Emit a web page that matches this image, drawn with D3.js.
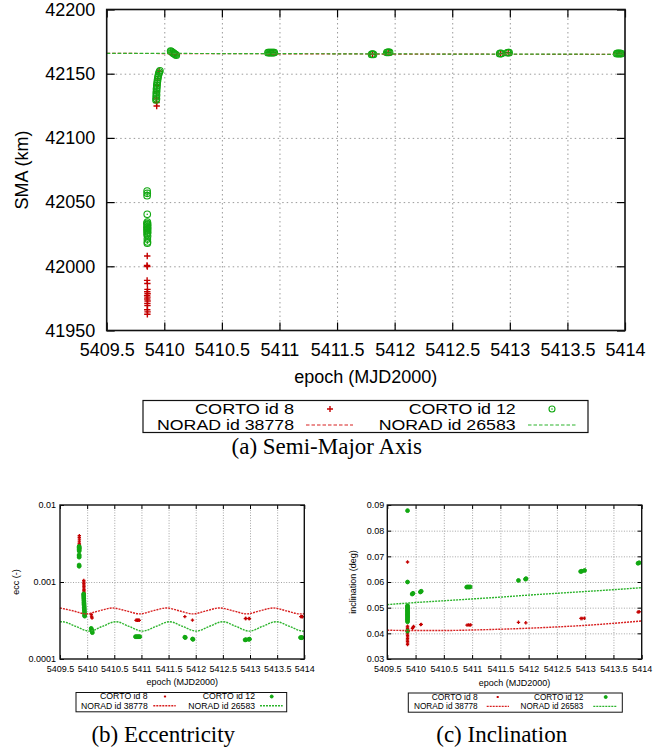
<!DOCTYPE html>
<html>
<head>
<meta charset="utf-8">
<script src="https://cdn.jsdelivr.net/npm/d3@7"></script>
<style>
  html, body { margin: 0; padding: 0; background: #fff; }
  svg { display: block; }
  text { font-family: "Liberation Sans", Arial, Helvetica, sans-serif; fill: #000; }
  text.caption { font-family: "Liberation Serif", "Times New Roman", serif; }
</style>
</head>
<body>
<svg id="fig" width="662" height="751"></svg>
<script>
// ---- shared axis data ----
const epochTicks = [5409.5, 5410, 5410.5, 5411, 5411.5, 5412, 5412.5, 5413, 5413.5, 5414];
const smaTicks = [41950, 42000, 42050, 42100, 42150, 42200];
const eccTicks = [0.0001, 0.001, 0.01];
const incTicks = [0.03, 0.04, 0.05, 0.06, 0.07, 0.08, 0.09];
const seriesNames = ["CORTO id 8", "CORTO id 12", "NORAD id 38778", "NORAD id 26583"];
const captions = ["(a) Semi-Major Axis", "(b) Eccentricity", "(c) Inclination"];

// ---- semi-major axis (km) ----
const smaCorto8 = [
  [5409.852, 42008.0], [5409.850, 42000.6], [5409.853, 41999.8], [5409.851, 41989.0], [5409.853, 41986.6],
  [5409.854, 41982.0], [5409.852, 41980.2], [5409.855, 41978.6], [5409.851, 41977.2], [5409.854, 41976.0],
  [5409.852, 41974.5], [5409.855, 41973.0], [5409.853, 41971.0], [5409.854, 41969.4], [5409.852, 41966.2],
  [5409.855, 41964.5], [5409.853, 41962.6],
  [5409.934, 42124.8], [5409.933, 42127.6], [5409.932, 42131.0], [5409.934, 42136.0], [5409.937, 42141.0],
  [5409.941, 42146.0], [5409.955, 42152.0],
  [5410.070, 42166.0], [5410.090, 42165.3], [5410.915, 42166.4], [5410.945, 42166.4], [5411.808, 42165.1],
  [5411.944, 42166.6], [5412.920, 42165.7], [5412.986, 42166.4], [5413.948, 42165.7]
];
const smaCorto12 = [
  [5409.851, 42058.6], [5409.852, 42056.8], [5409.851, 42055.0], [5409.852, 42040.5],
  [5409.853, 42034.5], [5409.849, 42033.5], [5409.856, 42032.8], [5409.852, 42032.0], [5409.855, 42031.0],
  [5409.849, 42030.2], [5409.856, 42029.4], [5409.853, 42028.5], [5409.850, 42027.6], [5409.856, 42026.8],
  [5409.853, 42025.8], [5409.851, 42024.8], [5409.855, 42023.6], [5409.853, 42021.2], [5409.854, 42019.0],
  [5409.853, 42018.0],
  [5409.928, 42129.5], [5409.932, 42130.5], [5409.929, 42132.0], [5409.933, 42133.5], [5409.930, 42135.0],
  [5409.934, 42136.5], [5409.932, 42138.0], [5409.936, 42139.5], [5409.935, 42141.0], [5409.938, 42142.5],
  [5409.940, 42144.0], [5409.942, 42145.5], [5409.945, 42147.0], [5409.948, 42148.5], [5409.952, 42150.0],
  [5409.957, 42151.3], [5409.962, 42152.3],
  [5410.055, 42167.6], [5410.062, 42167.2], [5410.069, 42166.7], [5410.076, 42166.2], [5410.083, 42165.8],
  [5410.090, 42165.3], [5410.097, 42164.9], [5410.104, 42164.4],
  [5410.900, 42166.4], [5410.908, 42166.5], [5410.916, 42166.4], [5410.924, 42166.5], [5410.932, 42166.4],
  [5410.940, 42166.5], [5410.948, 42166.4], [5410.955, 42166.5],
  [5411.800, 42165.0], [5411.808, 42165.2], [5411.816, 42165.0],
  [5411.932, 42166.5], [5411.940, 42166.7], [5411.948, 42166.6], [5411.956, 42166.7],
  [5412.912, 42165.6], [5412.920, 42165.8], [5412.928, 42165.7],
  [5412.978, 42166.3], [5412.986, 42166.5], [5412.994, 42166.4],
  [5413.928, 42165.6], [5413.936, 42165.8], [5413.944, 42165.7], [5413.952, 42165.8], [5413.960, 42165.7],
  [5413.968, 42165.6]
];
const smaNorad38778 = [[5409.5, 42165.8], [5410.5, 42165.6], [5411.5, 42165.4], [5412.5, 42165.2], [5413.5, 42165.1], [5414, 42165.0]];
const smaNorad26583 = [[5409.5, 42165.9], [5410.5, 42165.7], [5411.5, 42165.5], [5412.5, 42165.3], [5413.5, 42165.2], [5414, 42165.1]];

// ---- eccentricity (-) ----
const eccCorto8 = [
  [5409.856, 0.0040], [5409.855, 0.0038], [5409.857, 0.0036], [5409.856, 0.0034], [5409.855, 0.0032],
  [5409.857, 0.0031], [5409.856, 0.0030],
  [5409.938, 0.00105], [5409.939, 0.00100], [5409.940, 0.00096], [5409.939, 0.00092], [5409.941, 0.00088],
  [5409.940, 0.00084], [5409.942, 0.00080], [5409.941, 0.00077], [5409.943, 0.00074], [5409.942, 0.00071],
  [5409.944, 0.00068], [5409.943, 0.00065], [5409.945, 0.00062], [5409.944, 0.00060], [5409.946, 0.00057],
  [5409.945, 0.00054], [5409.947, 0.00052],
  [5410.075, 0.00038], [5410.080, 0.00036], [5410.085, 0.00035], [5410.090, 0.00034],
  [5410.900, 0.000318], [5410.915, 0.000320], [5410.930, 0.000318], [5410.945, 0.000320], [5410.960, 0.000318],
  [5411.800, 0.000355], [5411.940, 0.000320],
  [5412.915, 0.000335], [5412.925, 0.000336], [5412.980, 0.000335], [5412.990, 0.000334],
  [5413.935, 0.000355], [5413.950, 0.000356], [5413.965, 0.000354]
];
const eccCorto12 = [
  [5409.853, 0.00290], [5409.852, 0.00282], [5409.854, 0.00275], [5409.853, 0.00268], [5409.852, 0.00260],
  [5409.854, 0.00252], [5409.853, 0.00225], [5409.852, 0.00218], [5409.853, 0.00210], [5409.852, 0.00166],
  [5409.853, 0.00160],
  [5409.935, 0.00070], [5409.936, 0.00067], [5409.937, 0.00064], [5409.938, 0.00061], [5409.940, 0.00058],
  [5409.941, 0.00055], [5409.942, 0.00053], [5409.943, 0.00051], [5409.945, 0.00049], [5409.946, 0.00047],
  [5409.948, 0.00045], [5409.949, 0.00043], [5409.951, 0.00041], [5409.952, 0.00039], [5409.954, 0.00037],
  [5409.955, 0.00036],
  [5410.075, 0.00025], [5410.082, 0.00024], [5410.089, 0.00023], [5410.096, 0.00022],
  [5410.890, 0.000195], [5410.910, 0.000195], [5410.930, 0.000195], [5410.950, 0.000195], [5410.970, 0.000195],
  [5411.800, 0.000192], [5411.808, 0.000190], [5411.942, 0.000182], [5411.950, 0.000180],
  [5412.910, 0.000177], [5412.925, 0.000178], [5412.978, 0.000180], [5412.990, 0.000181],
  [5413.930, 0.000190], [5413.945, 0.000189], [5413.960, 0.000190]
];
const eccNorad38778 = [
  [5409.50, 0.000460], [5409.74, 0.000422], [5409.98, 0.000385], [5410.22, 0.000422], [5410.47, 0.000460],
  [5410.72, 0.000422], [5410.97, 0.000385], [5411.21, 0.000422], [5411.46, 0.000460], [5411.70, 0.000422],
  [5411.95, 0.000385], [5412.19, 0.000422], [5412.44, 0.000460], [5412.69, 0.000422], [5412.94, 0.000385],
  [5413.18, 0.000422], [5413.43, 0.000460], [5413.67, 0.000422], [5413.92, 0.000385], [5414.00, 0.000387]
];
const eccNorad26583 = [
  [5409.50, 0.000303], [5409.54, 0.000305], [5409.79, 0.000265], [5410.04, 0.000230], [5410.28, 0.000265],
  [5410.53, 0.000305], [5410.77, 0.000265], [5411.02, 0.000230], [5411.27, 0.000265], [5411.52, 0.000305],
  [5411.76, 0.000265], [5412.01, 0.000230], [5412.25, 0.000265], [5412.50, 0.000305], [5412.74, 0.000265],
  [5412.99, 0.000230], [5413.23, 0.000265], [5413.48, 0.000305], [5413.73, 0.000265], [5413.98, 0.000230],
  [5414.00, 0.000230]
];

// ---- inclination (deg) ----
const incCorto8 = [
  [5409.858, 0.0678],
  [5409.858, 0.0428], [5409.857, 0.0424], [5409.858, 0.0418], [5409.859, 0.0412], [5409.858, 0.0405],
  [5409.857, 0.0398], [5409.858, 0.0392], [5409.859, 0.0386], [5409.858, 0.0380], [5409.857, 0.0374],
  [5409.858, 0.0368], [5409.859, 0.0362], [5409.858, 0.0356],
  [5409.945, 0.0419], [5409.955, 0.0423], [5409.965, 0.0427],
  [5410.090, 0.0434], [5410.100, 0.0435],
  [5410.910, 0.0432], [5410.935, 0.0433], [5410.960, 0.0432], [5410.975, 0.0433],
  [5411.820, 0.0443], [5411.950, 0.0441],
  [5412.925, 0.0458], [5412.945, 0.0458], [5412.985, 0.0459],
  [5413.935, 0.0483], [5413.955, 0.0484]
];
const incCorto12 = [
  [5409.858, 0.0878], [5409.858, 0.0600],
  [5409.858, 0.0508], [5409.857, 0.0504], [5409.858, 0.0500], [5409.859, 0.0496], [5409.858, 0.0492],
  [5409.857, 0.0488], [5409.858, 0.0484], [5409.859, 0.0480], [5409.858, 0.0476], [5409.857, 0.0472],
  [5409.858, 0.0468], [5409.859, 0.0464], [5409.858, 0.0460], [5409.857, 0.0455], [5409.858, 0.0450],
  [5409.858, 0.0445], [5409.858, 0.0409],
  [5409.940, 0.0553], [5409.955, 0.0556],
  [5410.085, 0.0561], [5410.100, 0.0564],
  [5410.905, 0.0580], [5410.925, 0.0581], [5410.945, 0.0580], [5410.965, 0.0581],
  [5411.820, 0.0606], [5411.945, 0.0611], [5411.955, 0.0613],
  [5412.920, 0.0641], [5412.940, 0.0642], [5412.990, 0.0645],
  [5413.935, 0.0673], [5413.955, 0.0675]
];
const incNorad38778 = [
  [5409.5, 0.0412], [5410.0, 0.0411], [5410.5, 0.0411], [5411.0, 0.0413], [5411.5, 0.0416],
  [5412.0, 0.0420], [5412.5, 0.0425], [5413.0, 0.0431], [5413.5, 0.0439], [5414.0, 0.0448]
];
const incNorad26583 = [
  [5409.5, 0.0512], [5410.0, 0.0520], [5410.5, 0.0527], [5411.0, 0.0534], [5411.5, 0.0541],
  [5412.0, 0.0549], [5412.5, 0.0556], [5413.0, 0.0563], [5413.5, 0.0570], [5414.0, 0.0578]
];

// ---- styling ----
const RED_PT = "#c40000", GREEN_PT = "#12a812";
const RED_LN = "#d82020", GREEN_LN = "#2cb42c";
const FONT = '"Liberation Sans", Arial, Helvetica, sans-serif';

const svg = d3.select("#fig");

function plusPath(cx, cy, s) {
  return `M${cx - s},${cy}H${cx + s}M${cx},${cy - s}V${cy + s}`;
}

function drawPanel(o) {
  const g = svg.append("g");
  const x = d3.scaleLinear().domain([5409.5, 5414]).range([o.left, o.right]);
  const y = (o.log ? d3.scaleLog() : d3.scaleLinear()).domain(o.yDomain).range([o.bottom, o.top]);
  const w = o.right - o.left, h = o.bottom - o.top;

  // dotted grid
  const grid = g.append("g");
  grid.append("g").attr("transform", `translate(0,${o.bottom})`)
    .call(d3.axisBottom(x).tickValues(epochTicks.slice(1, -1)).tickSize(-h).tickFormat(""));
  grid.append("g").attr("transform", `translate(${o.left},0)`)
    .call(d3.axisLeft(y).tickValues(o.yTicks.slice(1, -1)).tickSize(-w).tickFormat(""));
  grid.selectAll(".domain").remove();
  grid.selectAll("line").attr("stroke", "#9a9a9a").attr("stroke-width", o.gridW)
    .attr("stroke-dasharray", o.gridDash);

  // inward ticks and tick labels on all four sides
  const axes = [
    g.append("g").attr("transform", `translate(0,${o.bottom})`)
      .call(d3.axisBottom(x).tickValues(epochTicks).tickSize(-o.tick).tickSizeOuter(0)
        .tickPadding(o.xPad).tickFormat(d => String(d))),
    g.append("g").attr("transform", `translate(0,${o.top})`)
      .call(d3.axisTop(x).tickValues(epochTicks).tickSize(-o.tick).tickSizeOuter(0).tickFormat("")),
    g.append("g").attr("transform", `translate(${o.left},0)`)
      .call(d3.axisLeft(y).tickValues(o.yTicks).tickSize(-o.tick).tickSizeOuter(0)
        .tickPadding(o.yPad).tickFormat(d => String(d))),
    g.append("g").attr("transform", `translate(${o.right},0)`)
      .call(d3.axisRight(y).tickValues(o.yTicks).tickSize(-o.tick).tickSizeOuter(0).tickFormat(""))
  ];
  axes.forEach(a => {
    a.attr("font-size", o.fs).attr("font-family", FONT);
    a.select(".domain").remove();
    a.selectAll("line").attr("stroke", "#000").attr("stroke-width", o.tickW);
    a.selectAll("text").attr("fill", "#000");
  });

  // points: CORTO id 8 then CORTO id 12
  g.append("g").selectAll("path").data(o.c8).join("path")
    .attr("d", d => plusPath(x(d[0]), y(d[1]), o.plus))
    .attr("stroke", RED_PT).attr("stroke-width", o.plusW).attr("fill", "none");
  const c12 = g.append("g").selectAll("g").data(o.c12).join("g");
  c12.append("circle").attr("cx", d => x(d[0])).attr("cy", d => y(d[1])).attr("r", o.ring)
    .attr("fill", o.ringFill).attr("stroke", GREEN_PT).attr("stroke-width", o.ringW);
  c12.append("circle").attr("cx", d => x(d[0])).attr("cy", d => y(d[1])).attr("r", o.dot)
    .attr("fill", GREEN_PT);

  // NORAD reference curves
  const line = d3.line().x(d => x(d[0])).y(d => y(d[1])).curve(d3.curveMonotoneX);
  [[o.n1, RED_LN], [o.n2, GREEN_LN]].forEach(([data, col]) => {
    g.append("path").datum(data).attr("d", line).attr("fill", "none")
      .attr("stroke", col).attr("stroke-width", o.lineW).attr("stroke-dasharray", o.lineDash);
  });

  // frame
  g.append("rect").attr("x", o.left).attr("y", o.top).attr("width", w).attr("height", h)
    .attr("fill", "none").attr("stroke", "#111").attr("stroke-width", o.frameW);

  // axis titles
  g.append("text").attr("x", (o.left + o.right) / 2).attr("y", o.xTitleY)
    .attr("text-anchor", "middle").attr("font-size", o.fs).text("epoch (MJD2000)");
  g.append("text").attr("transform", `translate(${o.yTitleX},${(o.top + o.bottom) / 2}) rotate(-90)`)
    .attr("text-anchor", "middle").attr("dy", "0.35em").attr("font-size", o.fs).text(o.yTitle);

  // key: two columns, entries filled row by row
  const L = o.key;
  g.append("rect").attr("x", L.x0).attr("y", L.y0).attr("width", L.x1 - L.x0).attr("height", L.y1 - L.y0)
    .attr("fill", "#fff").attr("stroke", "#111").attr("stroke-width", o.keyW);
  const rows = [[seriesNames[0], seriesNames[1]], [seriesNames[2], seriesNames[3]]];
  rows.forEach((r, i) => {
    r.forEach((name, j) => {
      g.append("text").attr("x", L.textEnd[j]).attr("y", L.base[i]).attr("text-anchor", "end")
        .attr("font-size", L.fs).attr("textLength", L.len[i][j]).attr("lengthAdjust", "spacingAndGlyphs")
        .text(name);
    });
  });
  g.append("path").attr("d", plusPath(L.sym[0], L.symY, o.keyPlus))
    .attr("stroke", RED_PT).attr("stroke-width", o.plusW).attr("fill", "none");
  g.append("circle").attr("cx", L.sym[1]).attr("cy", L.symY).attr("r", o.keyRing)
    .attr("fill", o.ringFill).attr("stroke", GREEN_PT).attr("stroke-width", o.ringW);
  g.append("circle").attr("cx", L.sym[1]).attr("cy", L.symY).attr("r", o.dot).attr("fill", GREEN_PT);
  [[L.ln[0], RED_LN], [L.ln[1], GREEN_LN]].forEach(([s, col]) => {
    g.append("line").attr("x1", s[0]).attr("x2", s[1]).attr("y1", L.lnY).attr("y2", L.lnY)
      .attr("stroke", col).attr("stroke-width", o.lineW).attr("stroke-dasharray", o.lineDash);
  });

  // sub-figure caption
  g.append("text").attr("class", "caption").attr("x", o.capX).attr("y", o.capY)
    .attr("text-anchor", "middle").attr("font-size", 23).text(o.caption);
}

// (a) semi-major axis
drawPanel({
  left: 106.7, right: 625, top: 9.5, bottom: 330.5,
  yDomain: [41950, 42200], yTicks: smaTicks, log: false,
  fs: 18, tick: 8, tickW: 1.2, xPad: 13, yPad: 11.5, gridW: 1, gridDash: "1.5,3",
  frameW: 1.6, plus: 3.2, plusW: 1.4, ring: 3.3, ringW: 1.1, ringFill: "none", dot: 0.8,
  lineW: 1.2, lineDash: "3.5,2",
  c8: smaCorto8, c12: smaCorto12, n1: smaNorad38778, n2: smaNorad26583,
  xTitleY: 382.5, yTitleX: 22, yTitle: "SMA (km)",
  keyW: 1.2, keyPlus: 3, keyRing: 3,
  key: { x0: 143, x1: 588, y0: 400.5, y1: 432.5, fs: 14, textEnd: [294, 515.7], base: [414, 429.8],
         len: [[99, 107], [137, 137]],
         sym: [330, 552], symY: 409, ln: [[306, 353], [528, 577]], lnY: 425 },
  capX: 326.7, capY: 454, caption: captions[0]
});

// (b) eccentricity
drawPanel({
  left: 60, right: 304.3, top: 505, bottom: 659,
  yDomain: [0.0001, 0.01], yTicks: eccTicks, log: true,
  fs: 9, tick: 4, tickW: 1, xPad: 6.5, yPad: 4, gridW: 0.9, gridDash: "1,1.6",
  frameW: 1.4, plus: 1.7, plusW: 1.3, ring: 1.9, ringW: 1, ringFill: GREEN_PT, dot: 0.9,
  lineW: 1.4, lineDash: "2,1",
  c8: eccCorto8, c12: eccCorto12, n1: eccNorad38778, n2: eccNorad26583,
  xTitleY: 685, yTitleX: 16, yTitle: "ecc (-)",
  keyW: 1, keyPlus: 1.1, keyRing: 1.5,
  key: { x0: 76, x1: 286.7, y0: 692.5, y1: 711.8, fs: 8.2, textEnd: [147.7, 255], base: [699.4, 708.8],
         len: [[47.7, 52.3], [66.7, 66.7]],
         sym: [165, 271.7], symY: 696.5, ln: [[153.3, 175.7], [260, 282.7]], lnY: 705.8 },
  capX: 163.3, capY: 742, caption: captions[1]
});

// (c) inclination
drawPanel({
  left: 387.3, right: 641.7, top: 505, bottom: 659,
  yDomain: [0.03, 0.09], yTicks: incTicks, log: false,
  fs: 9, tick: 4, tickW: 1, xPad: 6.5, yPad: 3, gridW: 0.9, gridDash: "1,1.6",
  frameW: 1.4, plus: 1.7, plusW: 1.3, ring: 1.9, ringW: 1, ringFill: GREEN_PT, dot: 0.9,
  lineW: 1.4, lineDash: "2,1",
  c8: incCorto8, c12: incCorto12, n1: incNorad38778, n2: incNorad26583,
  xTitleY: 685.5, yTitleX: 353, yTitle: "inclination (deg)",
  keyW: 1, keyPlus: 1.1, keyRing: 1.5,
  key: { x0: 408.3, x1: 622.3, y0: 693, y1: 712.2, fs: 8.2, textEnd: [477.7, 583.3], base: [700, 709.4],
         len: [[46, 49.3], [63.7, 62.7]],
         sym: [497.7, 605.7], symY: 697, ln: [[486.7, 509], [593.3, 616.7]], lnY: 706.4 },
  capX: 501.7, capY: 742, caption: captions[2]
});
</script>
</body>
</html>
